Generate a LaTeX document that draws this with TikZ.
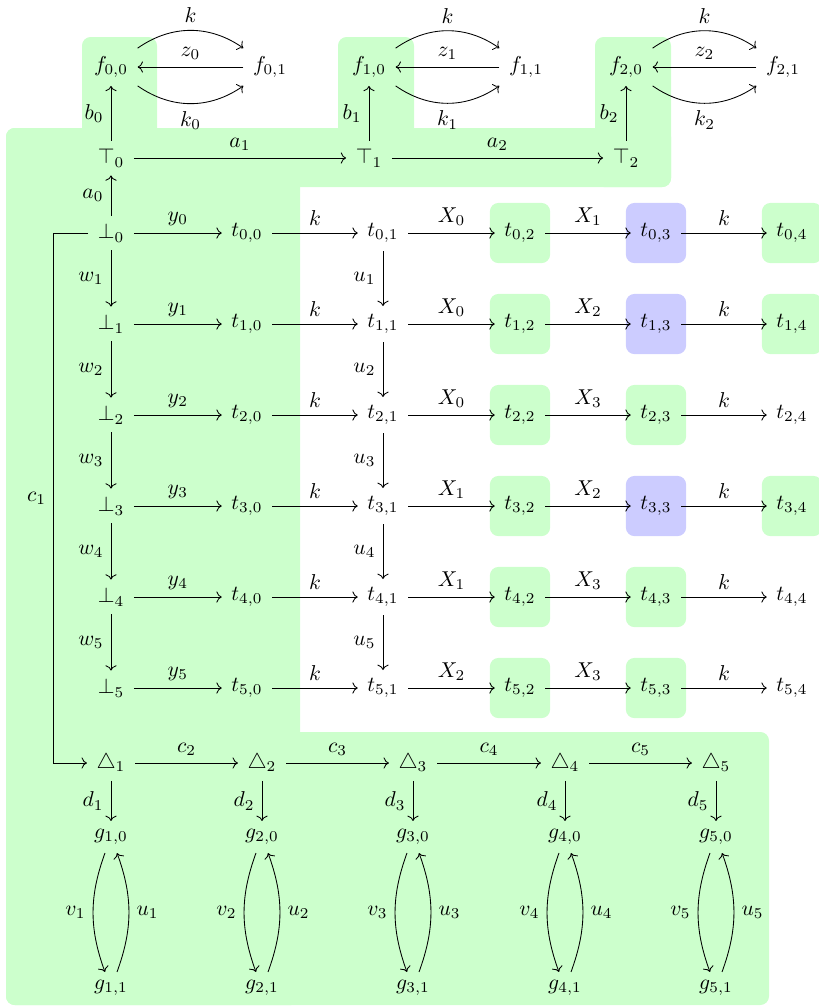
\documentclass[tikz,border=0pt]{standalone}
\usepackage{amsmath}
\usetikzlibrary{arrows.meta, positioning, backgrounds}
\definecolor{hlgreen}{HTML}{CCFFCC}
\definecolor{hlblue}{HTML}{CCCCFF}

\begin{document}
\begin{tikzpicture}[
    x=0.465pt, y=-0.465pt,
    obj/.style={inner xsep=1ex, inner ysep=0.85ex},
    gbox/.style={rectangle, fill=hlgreen, rounded corners, minimum size=28pt},
    bbox/.style={gbox, fill=hlblue},
    arrow/.style={-{To}}
]
\useasboundingbox (0,0) rectangle (819,1008);

% top: the f loops over the T row
\foreach \j/\xa/\xb in {0/111/270, 1/369/526, 2/626/783} {
  \node[obj] (f\j0) at (\xa,67) {$f_{\j,0}$};
  \node[obj] (f\j1) at (\xb,67) {$f_{\j,1}$};
  \node[obj] (top\j) at (\xa,158) {$\top_{\j}$};
  \draw[arrow] (f\j0.north east) to[bend left=35] node[above] {$k$} (f\j1.north west);
  \draw[arrow] (f\j1) -- node[above] {$z_{\j}$} (f\j0);
  \draw[arrow] (f\j0.south east) to[bend right=35] node[below] {$k_{\j}$} (f\j1.south west);
  \draw[arrow] (top\j) -- node[left] {$b_{\j}$} (f\j0);
}
\draw[arrow] (top0) -- node[above] {$a_1$} (top1);
\draw[arrow] (top1) -- node[above] {$a_2$} (top2);

% main grid
\foreach \i/\xa/\xb in {0/X_0/X_1, 1/X_0/X_2, 2/X_0/X_3, 3/X_1/X_2, 4/X_1/X_3, 5/X_2/X_3} {
  \pgfmathsetmacro\ry{233+91*\i}
  \node[obj] (bot\i) at (111,\ry) {$\bot_{\i}$};
  \node[obj] (t\i0) at (247,\ry) {$t_{\i,0}$};
  \node[obj] (t\i1) at (383,\ry) {$t_{\i,1}$};
  \node[obj] (t\i2) at (520,\ry) {$t_{\i,2}$};
  \node[obj] (t\i3) at (656,\ry) {$t_{\i,3}$};
  \node[obj] (t\i4) at (792,\ry) {$t_{\i,4}$};
  \draw[arrow] (bot\i) -- node[above] {$y_{\i}$} (t\i0);
  \draw[arrow] (t\i0) -- node[above] {$k$} (t\i1);
  \draw[arrow] (t\i1) -- node[above] {$\xa$} (t\i2);
  \draw[arrow] (t\i2) -- node[above] {$\xb$} (t\i3);
  \draw[arrow] (t\i3) -- node[above] {$k$} (t\i4);
}
\foreach \i [count=\p from 0] in {1,...,5} {
  \draw[arrow] (bot\p) -- node[left] {$w_{\i}$} (bot\i);
  \draw[arrow] (t\p1) -- node[left] {$u_{\i}$} (t\i1);
}
\draw[arrow] (bot0) -- node[left] {$a_0$} (top0);

% bottom row
\foreach \j/\cx in {1/111, 2/262, 3/413, 4/565, 5/716} {
  \node[obj] (tri\j) at (\cx,763) {$\triangle_{\j}$};
  \node[obj] (g\j0) at (\cx,837) {$g_{\j,0}$};
  \node[obj] (g\j1) at (\cx,988) {$g_{\j,1}$};
  \draw[arrow] (tri\j) -- node[left] {$d_{\j}$} (g\j0);
  \draw[arrow] ([xshift=-2.8pt]g\j0.south) to[bend right=20] node[left] {$v_{\j}$} ([xshift=-2.8pt]g\j1.north);
  \draw[arrow] ([xshift=2.8pt]g\j1.north) to[bend right=20] node[right] {$u_{\j}$} ([xshift=2.8pt]g\j0.south);
}
\foreach \j [count=\n from 2] in {1,...,4}
  \draw[arrow] (tri\j) -- node[above] {$c_{\n}$} (tri\n);
\draw[arrow] (bot0.west) -- ++(-16pt,0) |- node[pos=0.25, left] {$c_1$} (tri1);

% highlighted regions
\begin{scope}[on background layer]
  \fill[hlgreen, rounded corners] (82,37) rectangle (157,140);
  \fill[hlgreen, rounded corners] (338,37) rectangle (414,140);
  \fill[hlgreen, rounded corners] (595,37) rectangle (671,187);
  \fill[hlgreen, rounded corners] (6,128) rectangle (671,187);
  \fill[hlgreen, rounded corners] (6,128) rectangle (300,1005);
  \fill[hlgreen, rounded corners] (6,732) rectangle (769,1005);
  \foreach \n in {t02,t04,t12,t14,t22,t23,t32,t34,t42,t43,t52,t53}
    \node[gbox] at (\n) {};
  \foreach \n in {t03,t13,t33}
    \node[bbox] at (\n) {};
\end{scope}
\end{tikzpicture}
\end{document}
